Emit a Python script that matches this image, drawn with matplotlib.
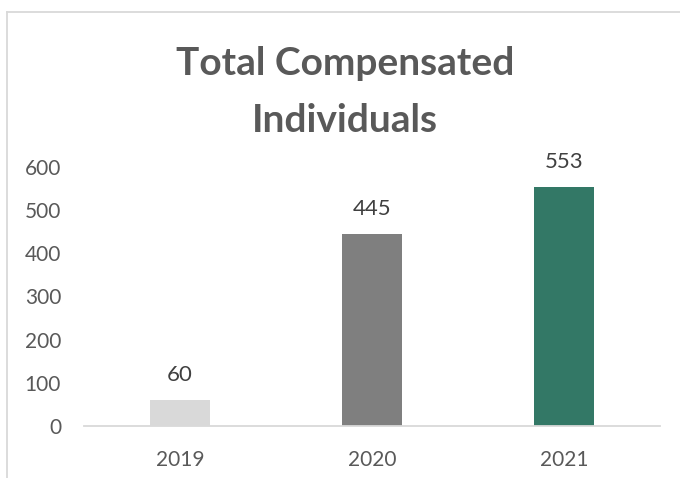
import matplotlib
matplotlib.use("Agg")
import matplotlib.pyplot as plt
from matplotlib.lines import Line2D

years = ["2019", "2020", "2021"]
individuals = [60, 445, 553]
bar_colors = ["#D9D9D9", "#7F7F7F", "#337866"]
y_ticks = [0, 100, 200, 300, 400, 500, 600]

plt.rcParams["font.family"] = ["Lato", "DejaVu Sans"]

W, H = 680, 478
fig = plt.figure(figsize=(W / 100, H / 100), dpi=100)
fig.patch.set_facecolor("white")

# chart frame (top and left edges visible)
frame_color = "#D9D9D9"
fig.add_artist(Line2D([6.5 / W, 1.0], [1 - 12 / H, 1 - 12 / H], color=frame_color, lw=1.3))
fig.add_artist(Line2D([6.5 / W, 6.5 / W], [0, 1 - 12 / H], color=frame_color, lw=1.3))

ax = fig.add_axes([84 / W, 1 - 426 / H, (660 - 84) / W, (426 - 167) / H])
x = range(len(years))
bars = ax.bar(x, individuals, width=0.31, color=bar_colors, zorder=2)

ax.set_xlim(-0.5, 2.5)
ax.set_ylim(0, 600)
ax.set_yticks(y_ticks)
ax.set_xticks(list(x))
ax.set_xticklabels(years)

for s in ["top", "right", "left"]:
    ax.spines[s].set_visible(False)
ax.spines["bottom"].set_color("#D9D9D9")
ax.spines["bottom"].set_linewidth(1.3)
ax.tick_params(axis="both", length=0, labelsize=15, colors="#595959")
ax.tick_params(axis="y", pad=16.5)
ax.tick_params(axis="x", pad=17)

for rect, v in zip(bars, individuals):
    ax.annotate(f"{v}", (rect.get_x() + rect.get_width() / 2, v),
                xytext=(0, 11), textcoords="offset points",
                ha="center", va="bottom", fontsize=16, color="#404040")

fig.text(0.507, 1 - 75 / H, "Total Compensated", ha="center", va="baseline",
         fontsize=28, fontweight="bold", color="#595959")
fig.text(0.507, 1 - 132 / H, "Individuals", ha="center", va="baseline",
         fontsize=28, fontweight="bold", color="#595959")

fig.savefig("out.png", dpi=100, facecolor="white")
